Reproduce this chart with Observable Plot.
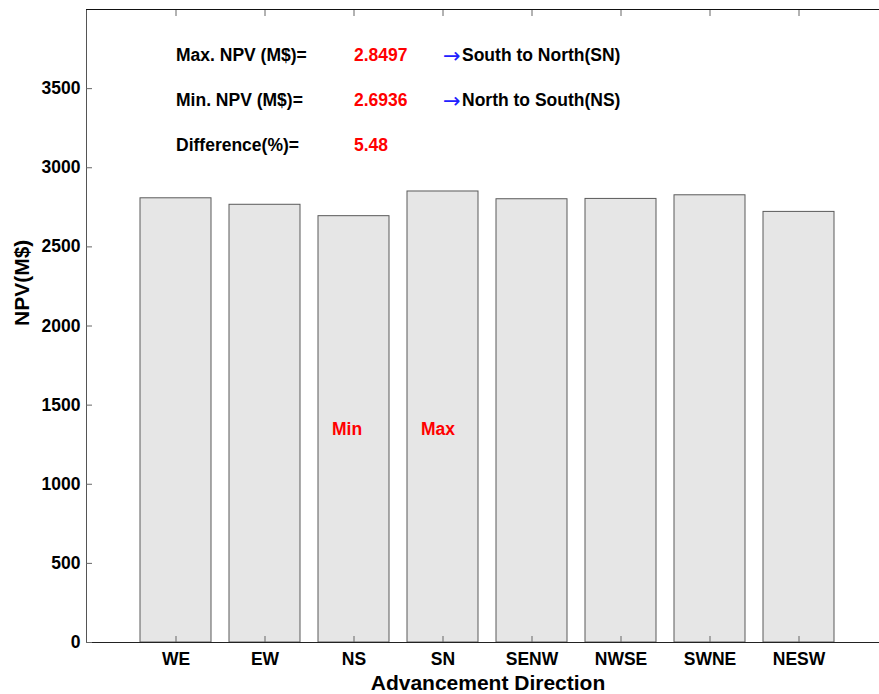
<!DOCTYPE html>
<html>
<head>
<meta charset="utf-8">
<script src="https://cdn.jsdelivr.net/npm/d3@7"></script>
<script src="https://cdn.jsdelivr.net/npm/@observablehq/plot@0.6"></script>
<style>
  html, body { margin: 0; padding: 0; background: white; overflow: hidden; }
</style>
</head>
<body>
<div id="chart"></div>
<script>
// ---- data ----
const categories = ["WE", "EW", "NS", "SN", "SENW", "NWSE", "SWNE", "NESW"];
const npv = [2807, 2766, 2694, 2850, 2801, 2803, 2826, 2721];
const yTicks = [0, 500, 1000, 1500, 2000, 2500, 3000, 3500];

const annotLabels = ["Max. NPV (M$)=", "Min. NPV (M$)=", "Difference(%)="];
const annotValues = ["2.8497", "2.6936", "5.48"];
const annotY = [3710, 3425, 3140];
const arrowTexts = ["South to North(SN)", "North to South(NS)"];
const markerLabels = ["Min", "Max"];
const markerCats = ["NS", "SN"];
const markerY = 1345;

const bars = categories.map((c, i) => ({cat: c, value: npv[i]}));
const annots = annotLabels.map((l, i) => ({label: l, value: annotValues[i], y: annotY[i], arrow: arrowTexts[i]}));
const arrows = annots.filter(d => d.arrow);
const markers = markerLabels.map((m, i) => ({label: m, cat: markerCats[i], y: markerY}));

const FONT = "Liberation Sans, Arial, Helvetica, sans-serif";

const chart = Plot.plot({
  width: 879,
  height: 694,
  marginLeft: 86,
  marginRight: 0,
  marginTop: 9,
  marginBottom: 52,
  style: {fontFamily: FONT, fontSize: "17.5px", fontWeight: "bold", background: "white", color: "black"},
  x: {type: "band", domain: categories, range: [85.7, 889.4], paddingInner: 0.2, paddingOuter: 0.6, align: 0.5},
  y: {domain: [0, 4000]},
  marks: [
    Plot.barY(bars, {x: "cat", y: "value", fill: "#e6e6e6", stroke: "#5a5a5a", strokeWidth: 1}),
    // axes box
    Plot.frame({anchor: "left", stroke: "#555"}),
    Plot.ruleY([0], {stroke: "#222"}),
    Plot.ruleY([4000], {stroke: "#111"}),
    // y axis: labels + inward ticks
    Plot.axisY({ticks: yTicks, tickFormat: d => String(d), tickSize: 0, tickPadding: 6, label: null, fill: "black", fontSize: 17.5}),
    Plot.axisY({ticks: yTicks, tickSize: -6, text: null, label: null, stroke: "#666"}),
    // x axis: labels + inward ticks bottom and top
    Plot.axisX({tickSize: 0, tickPadding: 10, label: null, fill: "black", fontSize: 17.5}),
    Plot.axisX({anchor: "bottom", tickSize: -6, text: null, label: null, stroke: "#666"}),
    Plot.axisX({anchor: "top", tickSize: -6, text: null, label: null, stroke: "#666"}),
    // axis titles
    Plot.text(["Advancement Direction"], {frameAnchor: "bottom", dy: 47, dx: 5, fontSize: 21, fill: "black"}),
    Plot.text(["NPV(M$)"], {frameAnchor: "left", rotate: -90, dx: -64, fontSize: 21, fill: "black"}),
    // annotations
    Plot.text(annots, {x: () => categories[0], y: "y", text: "label", textAnchor: "start", fill: "black", fontSize: 17.5}),
    Plot.text(annots, {x: () => categories[2], y: "y", text: "value", textAnchor: "start", fill: "#ff0000", fontSize: 17.5}),
    Plot.text(arrows, {x: () => categories[3], y: "y", text: () => "\u2192", textAnchor: "start", dy: 1, fill: "#2020ff", fontWeight: "normal", fontSize: 21, fontFamily: "DejaVu Sans, sans-serif"}),
    Plot.text(arrows, {x: () => categories[3], y: "y", text: "arrow", textAnchor: "start", dx: 19, fill: "black", fontSize: 17.5}),
    Plot.text(markers, {x: "cat", y: "y", text: "label", textAnchor: "start", dx: -22, fill: "#ff0000", fontSize: 17.5})
  ]
});
document.getElementById("chart").appendChild(chart);
</script>
</body>
</html>
